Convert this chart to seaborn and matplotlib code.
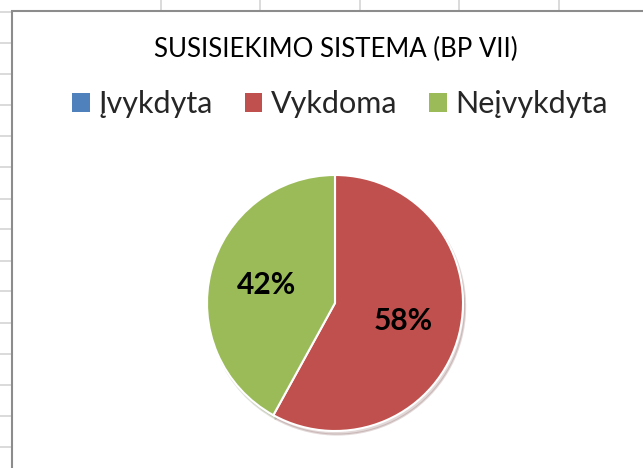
import matplotlib
matplotlib.use("Agg")
import matplotlib.pyplot as plt
import seaborn as sns
from matplotlib.patches import Patch, Rectangle

# chart data
title = "SUSISIEKIMO SISTEMA (BP VII)"
categories = ["Įvykdyta", "Vykdoma", "Neįvykdyta"]
values = [0, 58, 42]
colors = ["#4F81BD", "#C0504D", "#9BBB59"]

sns.set_theme(style="white")
plt.rcParams["font.family"] = ["Lato", "DejaVu Sans"]

W, H = 643, 468
fig = plt.figure(figsize=(W / 100, H / 100), dpi=100)

# spreadsheet background with cell gridlines
bg = fig.add_axes([0, 0, 1, 1])
bg.set_xlim(0, W)
bg.set_ylim(H, 0)
bg.set_xticks([161, 260, 360, 459, 559])
bg.set_yticks([12, 43, 74, 105, 136, 167, 199, 229, 261, 291, 323, 354, 385, 416, 447])
bg.grid(True, color="#d4d4d4", linewidth=1.2)
bg.tick_params(left=False, bottom=False, labelleft=False, labelbottom=False)
for s in bg.spines.values():
    s.set_visible(False)
# chart area
bg.add_patch(Rectangle((12, 11), W, H, facecolor="white", edgecolor="#8c8c8c",
                       linewidth=1.5, zorder=3))

# pie
ax = fig.add_axes([(335 - 128) / W, (H - 303 - 128) / H, 256 / W, 256 / H])
sns.set_palette(colors)


def pct(p):
    return f"{p:.0f}%" if p > 0 else ""


wedges, texts, autotexts = ax.pie(
    values, colors=colors, startangle=90, counterclock=False,
    autopct=pct, pctdistance=0.55,
    wedgeprops=dict(edgecolor="white", linewidth=1.5),
    textprops=dict(fontsize=21.5, fontweight="bold", color="black"),
    shadow=dict(ox=0.012, oy=-0.02, shade=0.5, alpha=0.18),
)
ax.set_xlim(-1, 1)
ax.set_ylim(-1, 1)

fig.text(336 / W, 1 - 57 / H, title, ha="center", va="baseline", fontsize=18.5, color="black")

handles = [Patch(facecolor=c, edgecolor="none") for c in colors]
fig.legend(handles, categories, loc="center", bbox_to_anchor=(340 / W, 1 - 104 / H),
           ncol=3, frameon=False, fontsize=22, handlelength=0.58, handleheight=0.56,
           handletextpad=0.27, columnspacing=1.05, borderpad=0, borderaxespad=0)

fig.savefig("out.png", dpi=100)
